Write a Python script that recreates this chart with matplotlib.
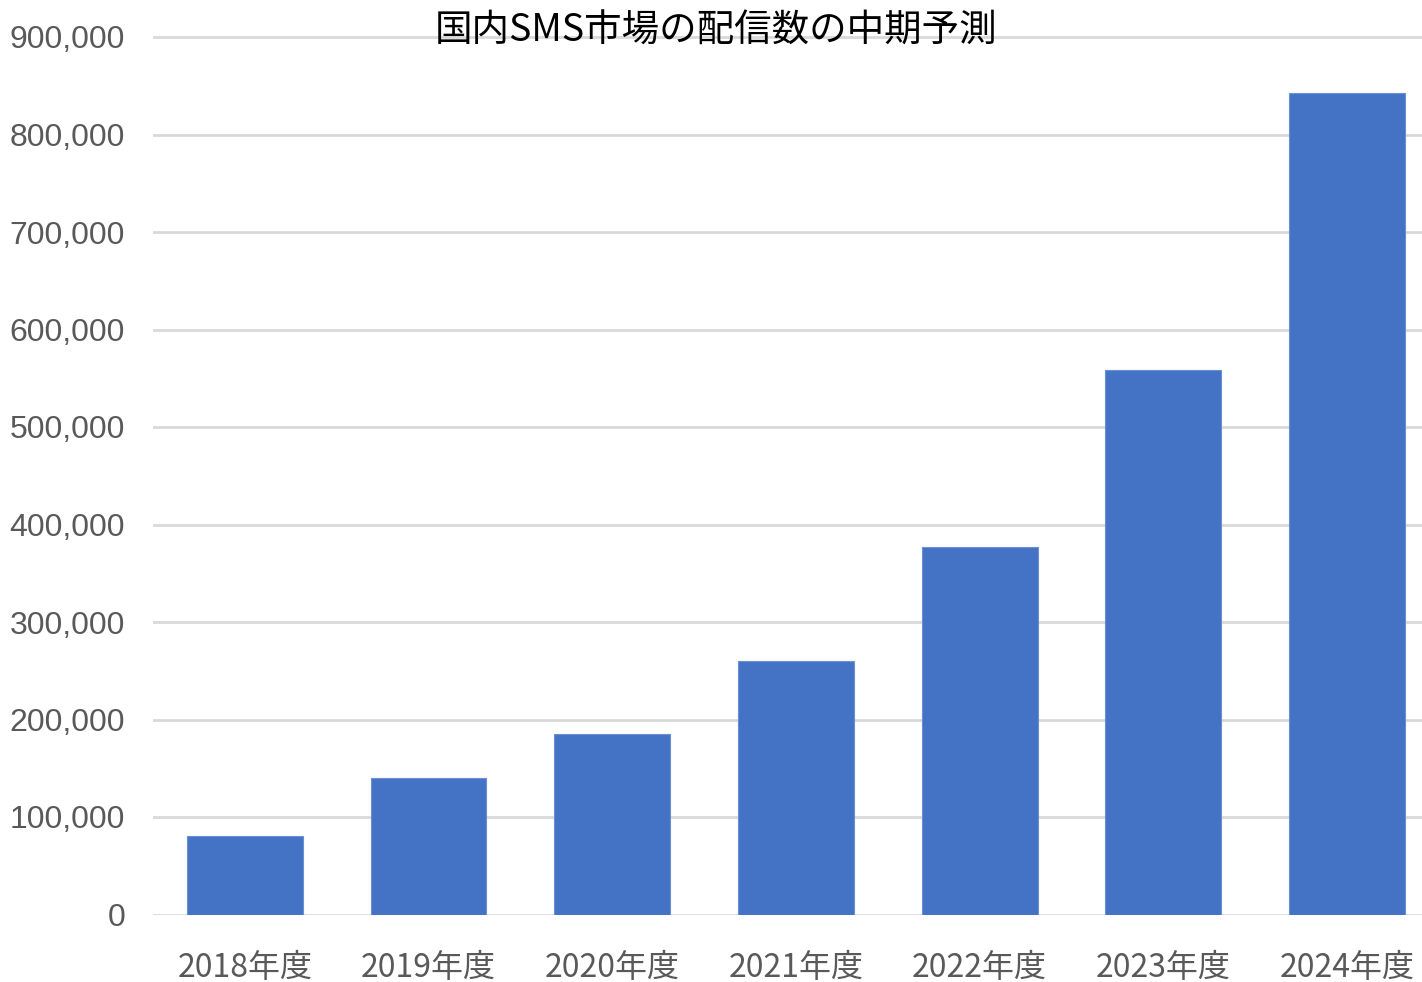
import matplotlib
matplotlib.use("Agg")
import matplotlib.pyplot as plt
from matplotlib.ticker import FuncFormatter

plt.rcParams['font.family'] = ['Liberation Sans', 'Noto Sans CJK JP', 'DejaVu Sans']

categories = ['2018年度', '2019年度', '2020年度', '2021年度', '2022年度', '2023年度', '2024年度']
values = [81000, 140000, 185000, 260000, 377000, 558000, 843000]
yticks = [0, 100000, 200000, 300000, 400000, 500000, 600000, 700000, 800000, 900000]
title = '国内SMS市場の配信数の中期予測'

W, H = 1422, 982
fig = plt.figure(figsize=(W / 100, H / 100), dpi=100)
left_px, right_px, bottom_px, top_px = 153, 1422, 914.5, 10
ax = fig.add_axes([left_px / W, 1 - bottom_px / H, (right_px - left_px) / W, (bottom_px - top_px) / H])

x = list(range(len(categories)))
ax.bar(x, values, width=0.63, color='#4472C4', edgecolor='#6A8FD4', linewidth=0.8, zorder=3)

ax.set_xlim(-0.5, -0.5 + (right_px - left_px) / 183.7)
ax.set_ylim(0, (bottom_px - top_px) / 97.5 * 100000)
ax.set_yticks(yticks)
ax.yaxis.set_major_formatter(FuncFormatter(lambda v, p: f'{int(v):,}'))
ax.set_xticks(x)
ax.set_xticklabels(categories, family=['Noto Sans CJK JP', 'Liberation Sans'])

ax.grid(axis='y', color='#D9D9D9', linewidth=2, zorder=0)
ax.grid(axis='x', visible=False)
for s in ax.spines.values():
    s.set_visible(False)
ax.tick_params(axis='both', length=0, colors='#595959')
ax.tick_params(axis='y', labelsize=23, pad=20)
ax.tick_params(axis='x', labelsize=23, pad=27)
for lbl in ax.get_yticklabels():
    lbl.set_horizontalalignment('right')

fig.text(716.5 / W, 1 - 31 / H, title, ha='center', va='center', fontsize=27,
         color='black', family=['Noto Sans CJK JP', 'Liberation Sans'])

fig.savefig('out.png', dpi=100, facecolor='white')
